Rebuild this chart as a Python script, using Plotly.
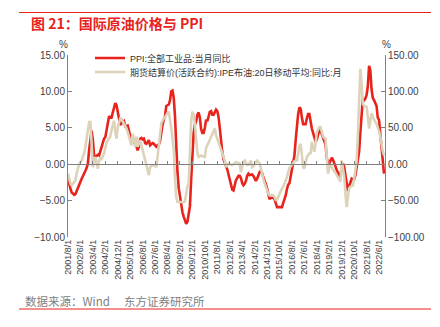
import plotly.graph_objects as go

# ---------------- data ----------------
start_year, start_month, n_months = 2001, 8, 255
months = []
y, m = start_year, start_month
for _ in range(n_months):
    months.append(f"{y}/{m}/1")
    m += 1
    if m > 12:
        m = 1
        y += 1

ppi = [
    -2.0, -2.8, -3.4, -3.9, -4.0,
    -4.2, -4.1, -3.6, -3.3, -2.8, -2.4, -2.0, -1.7, -1.4, -0.9, -0.5, 0.1,
    2.0, 3.1, 4.6, 3.3, 1.1, 1.0, 1.2, 1.3, 1.2, 1.8, 2.5, 3.0,
    3.5, 3.7, 4.7, 5.7, 6.6, 6.4, 6.4, 7.1, 7.9, 8.4, 8.1, 7.1,
    5.8, 5.4, 5.6, 5.8, 5.9, 5.2, 5.2, 5.3, 4.6, 4.0, 3.2, 3.2,
    3.0, 3.0, 2.5, 1.9, 2.4, 3.5, 3.6, 3.4, 3.5, 2.9, 2.8, 3.1,
    3.3, 2.6, 2.7, 2.9, 2.8, 2.5, 2.4, 2.6, 2.7, 3.2, 4.6, 5.4,
    6.1, 6.6, 8.0, 8.1, 8.2, 8.8, 10.0, 10.1, 9.1, 6.6, 2.0, -1.1,
    -3.3, -4.5, -6.0, -6.6, -7.2, -7.8, -8.2, -7.9, -7.0, -5.8, -2.1, 1.7,
    4.3, 5.4, 5.9, 6.8, 7.1, 6.4, 4.8, 4.3, 4.3, 5.0, 6.1, 5.9,
    6.6, 7.2, 7.3, 6.8, 6.8, 7.1, 7.5, 7.3, 6.5, 5.0, 2.7, 1.7,
    0.7, 0.0, -0.3, -0.7, -1.4, -2.1, -2.9, -3.5, -3.6, -2.8, -2.2, -1.9,
    -1.6, -1.6, -1.9, -2.6, -2.9, -2.7, -2.3, -1.6, -1.3, -1.5, -1.4, -1.4,
    -1.6, -2.0, -2.3, -2.0, -1.4, -1.1, -0.9, -1.2, -1.8, -2.2, -2.7, -3.3,
    -4.3, -4.8, -4.6, -4.6, -4.6, -4.8, -5.4, -5.9, -5.9, -5.9, -5.9, -5.9,
    -5.3, -4.9, -4.3, -3.4, -2.8, -2.6, -1.7, -0.8, 0.1, 1.2, 3.3, 5.5,
    6.9, 7.8, 7.6, 6.4, 5.5, 5.5, 5.5, 6.3, 6.9, 6.9, 5.8, 4.9,
    4.3, 3.7, 3.1, 3.4, 4.1, 4.7, 4.6, 4.1, 3.6, 3.3, 2.7, 0.9,
    0.1, 0.1, 0.4, 0.9, 0.6, 0.0, -0.3, -0.8, -1.2, -1.6, -1.4, -0.5,
    0.1, -0.4, -1.5, -3.1, -3.7, -3.0, -2.4, -2.0, -2.1, -2.1, -1.5, -0.4,
    0.3, 1.7, 4.4, 6.8, 9.0, 8.8, 9.0, 9.5, 10.7, 13.5, 12.9, 10.3,
    9.1, 8.8, 8.3, 8.0, 6.4, 6.1, 4.2, 2.3, 0.9, -1.3,
]

brent_yoy = [
    -13, -20, -27, -29, -26,
    -24, -22, -12, -5, 0, 3, 5, 10, 15, 24, 38, 52,
    58, 58, 28, -4, 3, 10, 1, -6, 5, 8, 7, 10,
    15, 22, 30, 33, 36, 38, 47, 55, 60, 44, 35, 51,
    58, 63, 62, 59, 57, 54, 49, 44, 38, 33, 26, 42,
    30, 24, 38, 24, 28, 33, 26, 19, 12, 6, 1, -10,
    -15, -4, -2, -1, -1, -3, -4, 10, 24, 40, 56, 60,
    63, 65, 68, 70, 72, 63, 50, 35, 19, -20, -45, -52,
    -52, -52, -53, -52, -52, -51, -40, -30, -27, 10, 60, 72,
    68, 55, 35, 15, 10, 11, 12, 11, 10, 10, 22, 26,
    30, 33, 38, 43, 47, 49, 40, 35, 30, 26, 20, 14,
    12, 5, -4, -1, 1, 0, -1, -1, 0, 2, 3, 2,
    1, 1, -11, -2, 3, 5, 2, -1, -1, 2, 5, -4,
    -3, 0, 3, 5, 3, 1, -5, -15, -20, -26, -33, -36,
    -40, -43, -43, -42, -43, -45, -49, -49, -45, -40, -37, -34,
    -31, -27, -22, -18, -11, -5, -3, 0, 3, 4, 5, 5,
    15, 25, 28, 12, -4, -6, 5, 10, 12, 15, 15, 31,
    22, 17, 28, 44, 48, 51, 51, 45, 38, 36, 35, 10,
    -13, -5, -1, -4, -8, -10, -12, -15, -18, -22, -24, 5,
    -5, -17, -40, -59, -45, -33, -31, -30, -29, -20, -5, 5,
    40, 97, 131, 110, 83, 80, 79, 79, 65, 49, 60, 70,
    65, 60, 58, 55, 51, 45, 38, 24, 18, 12,
]

tick_step = 10
tick_labels = months[::tick_step]

name_ppi = "PPI:全部工业品:当月同比"
name_oil = "期货结算价(活跃合约):IPE布油:20日移动平均:同比:月"

# ---------------- layout helpers ----------------
W, H = 440, 327
L, R, T, B = 68, 55, 55, 90
PW, PH = W - L - R, H - T - B

def px(x):
    return (x - L) / PW

def py(yy):
    return (H - B - yy) / PH

RED = "#e8231c"
BEIGE = "#ddd3bb"
AXIS = "#808080"
TXT = "#404040"
FONT = "Liberation Sans, Noto Sans CJK SC, sans-serif"
CJK = "Noto Sans CJK SC, sans-serif"

fig = go.Figure()
fig.add_trace(go.Scatter(x=months, y=ppi, name=name_ppi, mode="lines",
                         line=dict(color=RED, width=2.6), xaxis="x", yaxis="y",
                         legend="legend"))
fig.add_trace(go.Scatter(x=months, y=brent_yoy, name=name_oil, mode="lines",
                         line=dict(color=BEIGE, width=2.6), xaxis="x2", yaxis="y2",
                         legend="legend2"))

leg_common = dict(xanchor="left", yanchor="middle", bgcolor="rgba(0,0,0,0)",
                  font=dict(family=FONT, size=9, color="#333333"), itemwidth=30)

xr = [0, n_months - 0.2]
fig.update_layout(
    width=W, height=H,
    margin=dict(l=L, r=R, t=T, b=B, pad=0),
    paper_bgcolor="white", plot_bgcolor="white",
    font=dict(family=FONT, size=10, color=TXT),
    showlegend=True,
    legend=dict(x=px(90), y=py(58), **leg_common),
    legend2=dict(x=px(90), y=py(72), **leg_common),
    xaxis=dict(type="category", categoryorder="array", categoryarray=months,
               range=xr, showline=False, ticks="", showgrid=False, zeroline=False,
               tickmode="array", tickvals=tick_labels, ticktext=tick_labels,
               tickangle=-90, tickfont=dict(size=9, color=TXT)),
    xaxis2=dict(type="category", categoryorder="array", categoryarray=months,
                range=xr, overlaying="x", anchor="free", position=py(164),
                showline=True, linecolor=AXIS, linewidth=1,
                ticks="inside", ticklen=3, tickcolor=AXIS,
                tickmode="array", tickvals=tick_labels, showticklabels=False,
                showgrid=False, zeroline=False, matches="x"),
    yaxis=dict(range=[-10, 15], dtick=5, tickformat=".2f", showgrid=False,
               zeroline=False, showline=True, linecolor=AXIS, linewidth=1,
               ticks="inside", ticklen=4, tickcolor=AXIS, tickfont=dict(size=10, color=TXT)),
    yaxis2=dict(range=[-100, 150], dtick=50, tickformat=".2f", showgrid=False,
                zeroline=False, showline=True, linecolor=AXIS, linewidth=1,
                ticks="inside", ticklen=4, tickcolor=AXIS, overlaying="y",
                anchor="x", side="right", tickfont=dict(size=10, color=TXT)),
)

ann = [
    dict(text="%", x=px(63), y=py(44), xanchor="center", yanchor="middle",
         font=dict(size=10, color=TXT)),
    dict(text="%", x=px(386), y=py(44), xanchor="center", yanchor="middle",
         font=dict(size=10, color=TXT)),
    dict(text="<b>图 21：国际原油价格与 PPI</b>", x=px(29), y=py(23), xanchor="left",
         yanchor="middle", font=dict(family=CJK, size=14, color=RED)),
    dict(text="数据来源：Wind\u3000 东方证券研究所", x=px(23), y=py(301), xanchor="left",
         yanchor="middle", font=dict(family=CJK, size=11.5, color="#808080")),
]
for a in ann:
    a.update(xref="paper", yref="paper", showarrow=False)
fig.update_layout(annotations=ann)

fig.update_layout(shapes=[
    dict(type="line", xref="paper", yref="paper", x0=px(19), x1=px(431),
         y0=py(12.5), y1=py(12.5), line=dict(color=RED, width=1.2)),
    dict(type="line", xref="paper", yref="paper", x0=px(19), x1=px(431),
         y0=py(309), y1=py(309), line=dict(color=RED, width=1.2)),
])

fig.write_html("out.html")
